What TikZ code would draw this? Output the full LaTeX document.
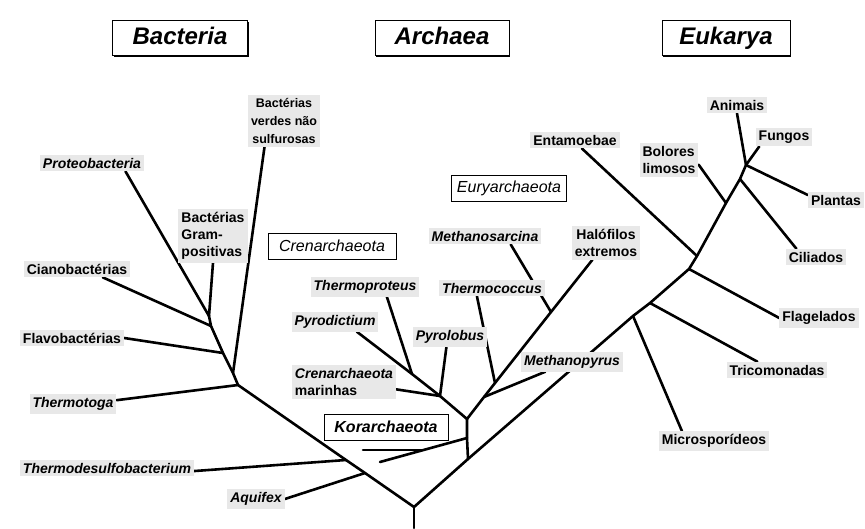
\documentclass[tikz,border=0pt]{standalone}
\usepackage{fontspec}
\setmainfont{Liberation Sans}
\usetikzlibrary{shadows}
\pgfdeclarelayer{background}
\pgfsetlayers{background,main}

\begin{document}
\begin{tikzpicture}[x=1pt, y=-1pt,
  branch/.style={line width=2.6pt, line cap=round, line join=round},
  taxon/.style={fill=gray!18, font=\fontsize{14}{17}\selectfont\bfseries, inner xsep=3pt, inner ysep=3pt},
  clade/.style={draw, line width=0.9pt, fill=white, font=\fontsize{16}{18}\selectfont\itshape, minimum height=26pt},
  dombox/.style={draw, line width=0.9pt, fill=white, font=\fontsize{24}{26}\selectfont\bfseries\itshape,
    text height=17pt, text depth=5pt, minimum height=35pt,
    general shadow={fill=black, shadow xshift=1.2pt, shadow yshift=-1.8pt}}]

\useasboundingbox (0,0) rectangle (865,528);

% Domain titles
\node[dombox, minimum width=135pt] (bact) at (180,38) {Bacteria};
\node[dombox, minimum width=134pt] (arch) at (442,38) {Archaea};
\node[dombox, minimum width=128pt] (euk) at (726,38) {Eukarya};

% Bacteria
\node[taxon, align=center, font=\fontsize{12.5}{18}\selectfont\bfseries] (verdes) at (284,121) {Bactérias\\verdes não\\sulfurosas};
\node[taxon, font=\fontsize{14}{17}\selectfont\bfseries\itshape] (proteo) at (92,163) {Proteobacteria};
\node[taxon, align=left] (gram) at (213,236) {Bactérias\\Gram-\\positivas};
\node[taxon] (ciano) at (77,269) {Cianobactérias};
\node[taxon] (flavo) at (72,338) {Flavobactérias};
\node[taxon, font=\fontsize{14}{17}\selectfont\bfseries\itshape] (thermotoga) at (73,404) {Thermotoga};
\node[taxon, font=\fontsize{14}{17}\selectfont\bfseries\itshape] (thermodesulfo) at (107,468) {Thermodesulfobacterium};
\node[taxon, font=\fontsize{14}{17}\selectfont\bfseries\itshape] (aquifex) at (256,499) {Aquifex};

% Archaea
\node[clade, minimum width=128pt] (cren) at (332,246) {Crenarchaeota};
\node[clade, minimum width=115pt] (eury) at (509,188) {Euryarchaeota};
\node[clade, minimum width=124pt, font=\fontsize{16}{18}\selectfont\bfseries\itshape] (kor) at (386,427) {Korarchaeota};
\node[taxon, font=\fontsize{14}{17}\selectfont\bfseries\itshape] (methsarc) at (485,236) {Methanosarcina};
\node[taxon, font=\fontsize{14}{17}\selectfont\bfseries\itshape] (thermoprot) at (365,287) {Thermoproteus};
\node[taxon, font=\fontsize{14}{17}\selectfont\bfseries\itshape] (thermococ) at (492,288) {Thermococcus};
\node[taxon, font=\fontsize{14}{17}\selectfont\bfseries\itshape] (pyrodic) at (335,322) {Pyrodictium};
\node[taxon, font=\fontsize{14}{17}\selectfont\bfseries\itshape] (pyrolob) at (450,337) {Pyrolobus};
\node[taxon, align=left] (marinhas) at (344,382) {\itshape Crenarchaeota\\marinhas};
\node[taxon, font=\fontsize{14}{17}\selectfont\bfseries\itshape] (methpyr) at (572,362) {Methanopyrus};
\node[taxon, align=center] (halof) at (606,243) {Halófilos\\extremos};

% Eukarya
\node[taxon] (entam) at (575,140) {Entamoebae};
\node[taxon, align=left] (bolores) at (669,160) {Bolores\\limosos};
\node[taxon] (animais) at (737,105) {Animais};
\node[taxon] (fungos) at (784,137) {Fungos};
\node[taxon] (plantas) at (836,200) {Plantas};
\node[taxon] (ciliados) at (816,257) {Ciliados};
\node[taxon] (flagel) at (819,318) {Flagelados};
\node[taxon] (tricom) at (777,370) {Tricomonadas};
\node[taxon] (micro) at (714,441) {Microsporídeos};

% Branch points
\coordinate (base) at (414,528);
\coordinate (root) at (414,507);
\coordinate (aqj) at (365,473);
\coordinate (tdj) at (346,460);
\coordinate (b1) at (238,385);
\coordinate (b2) at (233,373);
\coordinate (b3) at (223,353);
\coordinate (b4) at (211,326);
\coordinate (b5) at (209,316);
\coordinate (a0) at (468,459);
\coordinate (korj) at (467,438);
\coordinate (a1) at (467,419);
\coordinate (kora) at (363,450);
\coordinate (korm) at (423,450);
\coordinate (korb) at (380,462);
\coordinate (c1) at (440,396);
\coordinate (c2) at (412,374);
\coordinate (e1) at (484,397);
\coordinate (e2) at (495,383);
\coordinate (e3) at (551,312);
\coordinate (k1) at (633,316);
\coordinate (k2) at (650,303);
\coordinate (k3) at (689,269);
\coordinate (k4) at (697,256);
\coordinate (k5) at (726,203);
\coordinate (k6) at (740,179);
\coordinate (k7) at (746,165);

\begin{pgfonlayer}{background}
% Draw the trunk
\draw[branch] (base) -- (root);
\draw[branch] (root) -- (aqj) -- (tdj) -- (b1) -- (b2) -- (b3) -- (b4) -- (b5);
\draw[branch] (root) -- (a0) -- (k1) -- (k2) -- (k3) -- (k4) -- (k5) -- (k6) -- (k7) -- (fungos.-159);

% Bacteria branches
\draw[branch] (aquifex.east) -- (aqj);
\draw[branch] (thermodesulfo.-2) -- (tdj);
\draw[branch] (thermotoga.5) -- (b1);
\draw[branch] (verdes.-127) -- (b2);
\draw[branch] (flavo.east) -- (b3);
\draw[branch] (ciano.-18) -- (b4);
\draw[branch] (proteo.-14) -- (b5);
\draw[branch] (gram.south) -- (b5);

% Archaea branches
\draw[branch] (a0) -- (korj) -- (a1);
\draw[branch] (korj) -- (korb);
\draw[branch] (kora) -- (korm);
\draw[branch] (a1) -- (c1) -- (c2) -- (pyrodic.-24);
\draw[branch] (thermoprot.-24) -- (c2);
\draw[branch] (marinhas.-8) -- (c1);
\draw[branch] (pyrolob.-110) -- (c1);
\draw[branch] (a1) -- (e1) -- (e2) -- (e3) -- (halof.-129);
\draw[branch] (methpyr.-160) -- (e1);
\draw[branch] (thermococ.-151) -- (e2);
\draw[branch] (methsarc.-18) -- (e3);

% Eukarya branches
\draw[branch] (micro.163) -- (k1);
\draw[branch] (tricom.157) -- (k2);
\draw[branch] (flagel.west) -- (k3);
\draw[branch] (entam.-51) -- (k4);
\draw[branch] (bolores.-9) -- (k5);
\draw[branch] (ciliados.157) -- (k6);
\draw[branch] (plantas.170) -- (k7);
\draw[branch] (animais.south) -- (k7);
\end{pgfonlayer}

\end{tikzpicture}
\end{document}
